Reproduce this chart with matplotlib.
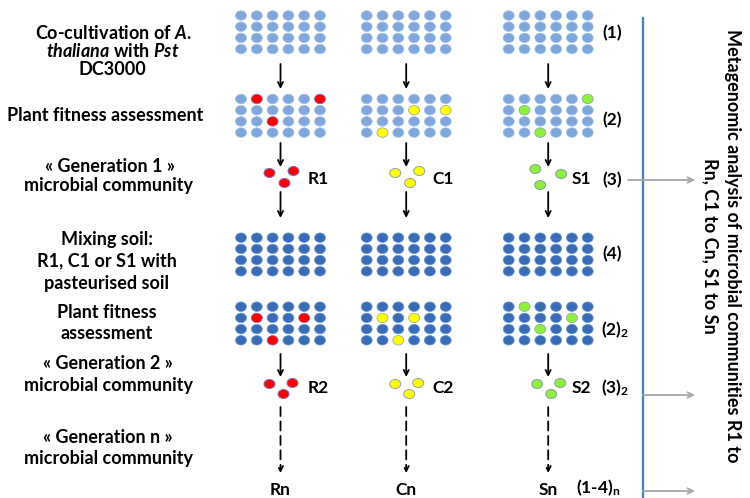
import matplotlib
matplotlib.use("Agg")
import matplotlib.pyplot as plt
from matplotlib.patches import Ellipse

plt.rcParams["font.family"] = "Lato"
plt.rcParams["font.weight"] = "bold"
plt.rcParams["mathtext.fontset"] = "custom"
plt.rcParams["mathtext.rm"] = "Lato:bold"
plt.rcParams["mathtext.it"] = "Lato:bold:italic"
plt.rcParams["mathtext.bf"] = "Lato:bold"

# --- diagram content ---
lineages = ["R", "C", "S"]
lineage_colors = {"R": "#ff0000", "C": "#ffff00", "S": "#8cf03c"}
lineage_edges = {"R": "#7a70c0", "C": "#8fa0b0", "S": "#8a9aa8"}

# highlighted plants (row, col) in each fitness-assessment grid
fitness_gen1 = {"R": [(0, 1), (0, 5), (2, 2)],
                "C": [(1, 3), (1, 5), (3, 1)],
                "S": [(0, 5), (1, 1), (3, 2)]}
fitness_gen2 = {"R": [(1, 1), (1, 4), (3, 2)],
                "C": [(1, 1), (1, 3), (3, 2)],
                "S": [(0, 1), (1, 4), (2, 2)]}

step_labels = ["(1)", "(2)", "(3)", "(4)", "(2)$_\\mathrm{2}$", "(3)$_\\mathrm{2}$",
               "(1-4)$_\\mathrm{n}$"]

left_labels = [
    "Co-cultivation of $\\mathit{A.}$",
    "$\\mathit{thaliana}$ with $\\mathit{Pst}$",
    "DC3000",
    "Plant fitness assessment",
    "« Generation 1 »",
    "microbial community",
    "Mixing soil:",
    "R1, C1 or S1 with",
    "pasteurised soil",
    "Plant fitness",
    "assessment",
    "« Generation 2 »",
    "microbial community",
    "« Generation n »",
    "microbial community",
]

side_title = ["Metagenomic analysis of microbial communities R1 to",
              "Rn, C1 to Cn, S1 to Sn"]

# --- layout (pixel coordinates) ---
col_x = {"R": 280.5, "C": 406.2, "S": 548.2}
label_dx = {"R": 38, "C": 37, "S": 33}
dx, dy = 15.8, 11.2
light, light_edge = "#7fa7dc", "#a4c0e6"
dark, dark_edge = "#3a6cb6", "#6d97d2"

left_x = [113, 113, 112, 105, 110, 109, 107, 107, 107, 107, 107, 108, 108, 108, 108]
left_y = [33, 51, 69, 115, 166, 185, 239, 261, 283, 312, 333, 363, 385, 437, 458]
step_y = [33, 120, 180, 254, 330, 388, 488]
step_x = [612, 612, 612, 612, 615, 615, 598]

fig = plt.figure(figsize=(7.5, 4.98), dpi=100)
ax = fig.add_axes([0, 0, 1, 1])
ax.set_xlim(0, 750)
ax.set_ylim(498, 0)
ax.axis("off")


def grid(cx, top, face, edge, marked=(), mface=None, medge=None):
    for r in range(4):
        for c in range(6):
            x = cx + (c - 2.5) * dx
            y = top + r * dy
            if (r, c) in marked:
                fc, ec = mface, medge
            else:
                fc, ec = face, edge
            ax.add_patch(Ellipse((x, y), 11, 9.5, facecolor=fc, edgecolor=ec, lw=0.5))


def community(cx, cy, face, edge, spots):
    for ox, oy in spots:
        ax.add_patch(Ellipse((cx + ox, cy + oy), 11, 9, facecolor=face, edgecolor=edge, lw=0.7))


def arrow(x, y0, y1, dashed=False):
    ax.annotate("", xy=(x, y1), xytext=(x, y0),
                arrowprops=dict(arrowstyle="->", color="black", lw=1.3,
                                linestyle=(0, (5, 3)) if dashed else "-",
                                mutation_scale=9, shrinkA=0, shrinkB=0))


spots_a = [(-11, 0), (13, -2), (4, 10)]
spots_s1 = [(-13, -4), (13, 1), (-8, 12)]

for k in lineages:
    cx = col_x[k]
    face, edge = lineage_colors[k], lineage_edges[k]
    grid(cx, 15.5, light, light_edge)
    arrow(cx, 64, 89)
    grid(cx, 99, light, light_edge, fitness_gen1[k], face, edge)
    arrow(cx, 143, 167)
    community(cx, 173, face, edge, spots_s1 if k == "S" else spots_a)
    ax.text(cx + label_dx[k], 179, k + "1", ha="center", va="center", fontsize=12.5)
    arrow(cx, 192, 218)
    grid(cx, 237.7, dark, dark_edge)
    grid(cx, 306.7, dark, dark_edge, fitness_gen2[k], face, edge)
    arrow(cx, 354, 377)
    community(cx, 384, face, edge, [(-11, 0), (12, -1), (3, 10)])
    ax.text(cx + label_dx[k], 388, k + "2", ha="center", va="center", fontsize=12.5)
    arrow(cx, 407, 473, dashed=True)
    ax.text(cx, 490, k + "n", ha="center", va="center", fontsize=12.5)

for s, x, y in zip(step_labels, step_x, step_y):
    ax.text(x, y, s, ha="center", va="center", fontsize=12.5)

for s, x, y in zip(left_labels, left_x, left_y):
    ax.text(x, y, s, ha="center", va="center", fontsize=13)

# metagenomic analysis column
ax.plot([643, 643], [18, 498], color="#4a7ebb", lw=1.6)
for y0, x0 in [(180, 628), (395, 643), (491, 643)]:
    ax.annotate("", xy=(695, y0), xytext=(x0, y0),
                arrowprops=dict(arrowstyle="->", color="#a6a6a6", lw=1.3,
                                mutation_scale=10, shrinkA=0, shrinkB=0))
ax.text(732, 246, side_title[0], rotation=-90, ha="center", va="center",
        rotation_mode="anchor", fontsize=13)
ax.text(710, 246, side_title[1], rotation=-90, ha="center", va="center",
        rotation_mode="anchor", fontsize=13)

fig.savefig("out.png", dpi=100)
